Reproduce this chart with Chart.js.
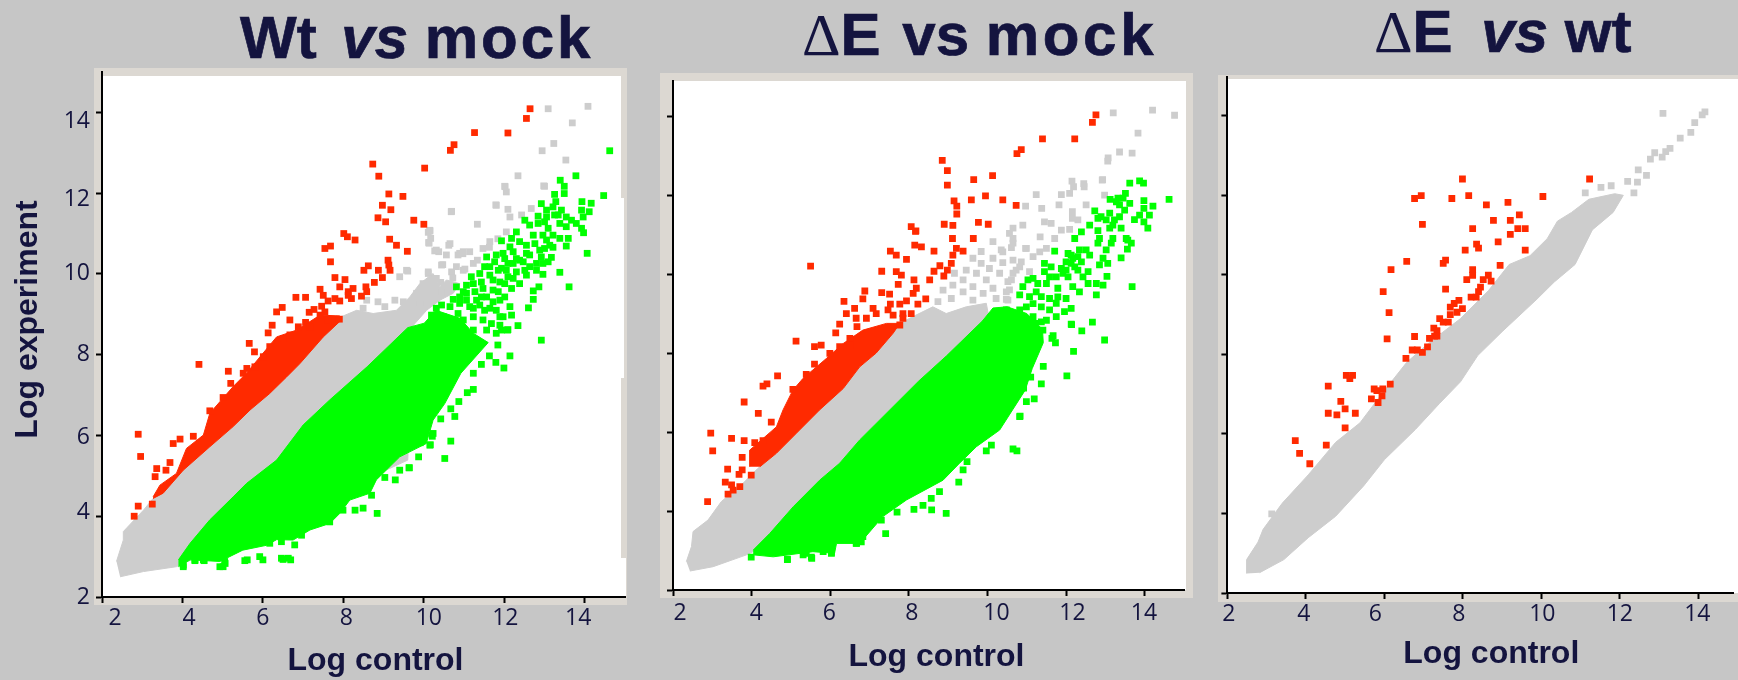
<!DOCTYPE html>
<html><head><meta charset="utf-8">
<script src="https://cdn.jsdelivr.net/npm/chart.js@4"></script>
<style>
html,body{margin:0;padding:0;width:1738px;height:680px;overflow:hidden;background:#c6c6c6}
.box{position:absolute}
canvas{position:absolute;top:0}
.t{position:absolute;white-space:pre;font:bold 60px/60px "Liberation Sans",Arial,sans-serif;color:#14143f;-webkit-text-stroke:0.7px #14143f}
.t i{font-style:italic}
.t b.d{font:normal 60px/60px "Liberation Serif",serif;-webkit-text-stroke:0}
</style></head><body>
<div class="box" style="left:94px;top:68px;width:533px;height:537px;background:#dcd8d2"></div>
<div class="box" style="left:101px;top:76px;width:520px;height:521px;background:#fff"></div>
<div class="box" style="left:621px;top:198px;width:3px;height:180px;background:#fff"></div>
<div class="box" style="left:621px;top:558px;width:5px;height:39px;background:#fff"></div>
<div class="box" style="left:660px;top:73px;width:533px;height:525px;background:#dcd8d2"></div>
<div class="box" style="left:673px;top:81px;width:513px;height:509px;background:#fff"></div>
<div class="box" style="left:1218px;top:75px;width:520px;height:527px;background:#dcd8d2"></div>
<div class="box" style="left:1227px;top:79px;width:511px;height:514px;background:#fff"></div>
<div class="t" style="left:240px;top:8px">Wt <i style="margin-left:8px">vs</i> <span style="letter-spacing:3px">mock</span></div>
<div class="t" style="left:802px;top:5px"><b class="d">Δ</b>E <span style="margin-left:5px">vs</span> <span style="letter-spacing:3.7px">mock</span></div>
<div class="t" style="left:1374px;top:2px"><b class="d">Δ</b>E <i style="margin-left:12px">vs</i> wt</div>
<canvas id="c1" style="left:0" width="640" height="680"></canvas>
<canvas id="c2" style="left:640px" width="550" height="680"></canvas>
<canvas id="c3" style="left:1190px" width="548" height="680"></canvas>
<script>
const tickValues = [2,4,6,8,10,12,14];
const xTitle = "Log control";
const yTitle = "Log experiment";

// Panel 1: Wt vs mock
const p1GrayShape = [[2.36,2.88],[2.53,3.41],[2.53,3.62],[3.03,4.15],[3.27,4.44],[3.52,4.6],[4.02,5.14],[4.68,5.72],[5.26,6.22],[5.68,6.63],[6.17,7.04],[6.59,7.45],[7.5,8.44],[7.95,8.94],[8.33,9.1],[8.74,9.02],[9.32,9.1],[9.65,9.43],[9.9,9.76],[10.23,10.01],[10.4,9.68],[10.56,9.85],[10.89,9.76],[10.73,9.52],[10.4,9.35],[10.07,9.1],[9.74,8.73],[9.6,5.39],[3.85,2.75],[3.03,2.63],[2.45,2.5]];
const p1GrayPts = [[12.34,12.43],[12.01,12.17],[12.05,12.03],[13,12.17],[11.8,11.7],[10.69,11.55],[12.09,11.6],[12.14,11.41],[11.33,11.23],[12.67,11.62],[12.43,11.46],[12.05,11.04],[10.15,11.08],[10.17,10.88],[10.65,10.75],[10.27,10.57],[10.56,10.47],[10.98,10.55],[10.85,10.47],[11.47,10.63],[11.64,10.8],[10.44,10.22],[10.69,10.05],[11.23,10.26],[10.98,10.09],[13.09,14.09],[14.08,14.15],[13.69,13.74],[13.23,13.23],[12.94,13.05],[13.53,12.82],[12.98,12.18],[12.02,12.16],[11.79,11.71],[10.68,11.54],[10.11,11.03],[10.13,10.76],[10.62,10.71],[10.37,10.55],[10.97,10.5],[10.47,10.23],[9.6,10.07],[10.11,10.01],[10.15,11.06],[10.12,10.78],[10.31,10.59],[10.89,10.51],[11.14,10.55],[10.11,10.05],[9.57,10.09],[9.4,9.93],[9.98,9.76],[10.31,9.89],[10.44,9.56],[8.58,9.35],[8.49,9.15],[8.86,9.31],[9.28,9.35],[9.03,9.19],[9.82,9.52],[9.9,9.27],[9.49,9.31],[10.81,10.18],[10.72,9.9],[11.02,10.12],[11.33,10.34],[11.63,10.66],[11.84,10.87],[10.42,9.79],[10.11,9.69]];
const p1RedShape = [[3.27,4.48],[3.44,4.77],[3.85,5.06],[4.1,5.68],[4.52,6.01],[4.68,6.55],[5.26,7.21],[5.59,7.54],[5.93,7.95],[6.34,8.44],[6.84,8.61],[7.42,8.98],[7.91,8.96],[7.95,8.86],[7.5,8.44],[6.92,7.78],[6.59,7.45],[6.17,7.04],[5.68,6.63],[5.26,6.22],[4.68,5.72],[4.02,5.14],[3.52,4.57],[3.27,4.44]];
const p1RedPts = [[12.64,14.09],[12.55,13.85],[12.09,13.49],[11.26,13.5],[10.75,13.2],[10.66,13.06],[10.02,12.62],[8.73,12.72],[8.88,12.42],[9.13,11.98],[9.48,11.92],[8.97,11.7],[9.18,11.59],[8.86,11.39],[9.05,11.29],[9.75,11.33],[10,11.23],[9.15,10.86],[9.32,10.71],[9.59,10.56],[8.01,11],[8.1,10.92],[8.29,10.84],[7.54,10.63],[7.68,10.69],[7.68,10.3],[9.11,10.34],[9.13,10.22],[9.16,10.09],[8.62,10.2],[8.51,10.09],[8.87,10.09],[8.97,9.91],[8.77,9.79],[7.79,9.91],[8.04,9.86],[7.91,9.68],[7.42,9.62],[7.5,9.47],[6.82,9.42],[7.06,9.42],[8.24,9.64],[8.12,9.56],[8.56,9.68],[8.58,9.56],[8.45,9.45],[8.2,9.39],[8.12,9.47],[7.79,9.39],[7.62,9.33],[7.91,9.33],[6.48,9.17],[6.34,9.06],[7.46,9.2],[7.27,9.12],[7.15,9.05],[7.54,9.06],[7.42,8.98],[6.67,8.86],[7.06,8.8],[7.9,8.88],[6.23,8.73],[6.88,8.69],[6.13,8.54],[5.66,8.28],[5.79,8.07],[5.6,7.66],[6.17,8.2],[6.51,8.4],[6.67,8.49],[7.17,8.69],[7.62,8.86],[6.01,7.95],[5.8,7.7],[4.41,7.76],[2.9,6.03],[2.96,5.48],[2.9,4.25],[2.8,4],[3.25,4.3],[3.36,5.18],[3.32,4.98],[3.59,5.14],[3.69,5.33],[3.77,5.8],[3.94,5.91],[4.27,5.98],[4.68,6.61],[5.01,6.94],[5.14,7.59],[5.2,7.29],[5.51,7.54]];
const p1GreenShape = [[3.9,2.92],[4.19,3.33],[4.68,3.91],[5.26,4.48],[5.59,4.81],[6.34,5.39],[7,6.26],[7.66,6.88],[8.59,7.7],[9.6,8.67],[10.01,8.78],[10.3,9.1],[10.9,8.9],[11.23,8.53],[11.6,8.3],[10.92,7.54],[10.52,6.79],[10.23,6.38],[10.06,5.8],[9.4,5.47],[8.82,4.9],[8.66,4.57],[8.16,4.4],[7.91,4.07],[7.66,3.82],[7.17,3.66],[6.75,3.41],[6.34,3.42],[6.09,3.28],[5.5,3.16],[4.93,2.88],[4.19,2.92],[3.9,2.75]];
const p1GreenPts = [[13.78,12.43],[13.39,12.32],[13.49,12.17],[13.25,11.97],[13.49,11.99],[14.47,11.94],[12.92,11.74],[13.28,11.79],[13.93,11.79],[14.16,11.75],[13.05,11.58],[13.42,11.58],[13.92,11.58],[14.11,11.54],[12.84,11.43],[13.25,11.46],[13.54,11.41],[13.96,11.41],[12.51,11.33],[13,11.29],[13.38,11.25],[13.79,11.25],[12.63,11.21],[12.84,11.25],[13.92,11.13],[13.09,11.13],[13.54,11.17],[12.3,11.04],[13.97,11.02],[13.21,10.96],[12.72,10.96],[11.93,10.82],[12.18,10.88],[13.59,10.88],[13.05,10.84],[12.38,10.8],[12.76,10.75],[12.55,10.71],[12.14,10.67],[13.54,10.69],[13,10.63],[13.21,10.66],[14.06,10.51],[11.97,10.51],[12.3,10.38],[11.56,10.42],[12.63,10.47],[13.17,10.41],[12.92,10.42],[12.8,10.26],[13.09,10.3],[12.47,10.3],[11.76,10.3],[12.09,10.26],[11.51,10.18],[12.8,10.09],[13.38,10.04],[12.96,9.99],[11.93,10.14],[12.3,10.05],[11.18,9.93],[12.55,9.97],[11.64,9.97],[12.09,9.93],[11.43,9.8],[11.89,9.8],[12.38,9.76],[10.81,9.68],[11.06,9.72],[13.61,9.68],[12.86,9.68],[12.72,9.58],[12.18,9.64],[11.72,9.6],[11.27,9.56],[10.98,9.56],[10.73,9.37],[12.72,9.37],[11.43,9.43],[12.01,9.43],[11.06,9.35],[11.72,9.31],[12.6,9.16],[10.44,9.23],[11.23,9.15],[12.14,9.19],[11.51,9.1],[10.85,9.02],[12.18,8.98],[11.89,8.94],[10.19,8.98],[12.34,8.72],[12.08,8.61],[11.89,8.73],[12.92,8.36],[14.62,13.05],[8.84,4.07],[8.49,4.2],[8.29,4.15],[8.7,4.52],[9.29,4.9],[9.63,5.2],[9.87,5.47],[10.52,5.43],[10.15,5.76],[9.4,5.14],[9.03,4.96],[6.46,3.37],[6.79,3.29],[6.5,2.93],[6.69,2.92],[5.92,3],[5.61,2.92],[4.93,2.75],[5.06,2.83],[4.02,2.79],[4.52,2.92],[4.31,2.92],[7.99,4.15],[7.66,3.86],[6.96,3.53],[6.17,3.33],[10.23,6.05],[10.67,5.86],[10.77,6.47],[10.67,6.66],[10.21,5.98],[9.91,5.82],[10.16,5.77],[9.64,5.2],[10.01,6.36],[10.42,6.41],[10.87,6.84],[11.23,7.14],[11.08,7.06],[11.43,7.76],[11.23,7.54],[11.63,7.97],[11.79,7.81],[11.99,7.67],[12.14,7.97],[11.84,8.24],[12.09,8.62],[11.39,10.01],[11.64,10.18],[11.85,10.09],[12.05,10.09],[12.22,10.26],[12.38,10.34],[11.72,9.85],[12.01,9.76],[12.22,9.89],[11.23,9.76],[11.47,9.64],[11.85,9.56],[11.06,9.52],[11.31,9.35],[11.56,9.43],[11.89,9.35],[10.89,9.43],[10.65,9.19],[10.89,9.27],[11.14,9.19],[11.39,9.23],[11.64,9.15],[11.8,9.1],[11.97,8.94],[10.98,8.86],[11.23,8.94],[11.47,8.86],[11.68,8.77],[11.93,8.61],[10.73,8.86],[10.48,8.94],[10.31,9.15],[10.23,8.77],[10.56,8.61],[10.89,8.61],[11.23,8.61],[11.56,8.61],[11.8,8.53],[12.96,10.96],[13.13,10.71],[13.38,10.88],[12.88,10.59],[12.55,10.51],[12.22,10.55],[12.01,10.38],[11.8,10.47],[12.51,10.09],[12.63,10.18],[12.96,10.26],[13.21,11.66],[13.34,11.46],[13.05,11.41],[13.67,11.33],[4.02,2.75],[4.31,2.9],[4.54,2.9],[5.01,2.75],[5.05,2.88],[5.55,2.9],[6,2.92],[6.46,2.96],[6.63,2.96]];

// Panel 2: dE vs mock
const p2GrayShape = [[2.34,2.72],[2.47,3.1],[2.51,3.48],[2.89,3.77],[3.23,4.24],[3.78,4.7],[4.16,5.08],[4.63,5.46],[5.14,5.97],[5.73,6.56],[6.33,7.1],[6.75,7.65],[7.17,8],[7.6,8.5],[7.77,8.75],[8.1,8.92],[8.61,9.17],[8.95,9],[9.46,9.17],[9.97,9.26],[10.05,8.83],[9.8,8.75],[9.3,5.5],[3.87,2.89],[3.02,2.59],[2.43,2.48]];
const p2GrayPts = [[13.06,12.86],[12.15,12.35],[12.45,12.29],[12.92,12.38],[12.19,12.21],[11.24,12.01],[11.88,12.01],[12.09,12.04],[12.98,12],[11.82,11.75],[12.51,11.75],[10.97,11.72],[11.38,11.66],[12.16,11.58],[12.16,11.41],[12.3,11.37],[11.45,11.32],[11.62,11.28],[10.9,11.24],[10.65,11.16],[10.56,11.03],[11.88,11.11],[12.09,11.13],[11.34,10.94],[10.65,10.9],[11.71,10.9],[10.97,10.65],[10.61,10.67],[11.5,10.65],[10.39,10.56],[11.33,10.56],[10.86,10.31],[10.39,10.29],[11.16,10.44],[11.07,10.06],[10.73,10.1],[10.61,9.85],[10.56,9.6],[10.48,9.36],[10.82,10.18],[13.2,14.08],[14.2,14.15],[14.76,14.02],[13.83,13.57],[13.36,13.09],[13.07,12.94],[13.68,13.06],[12.93,12.39],[12.46,12.21],[10.14,10.82],[10.65,10.78],[10.35,10.61],[10.99,10.65],[9.84,10.57],[9.63,10.4],[9.84,10.27],[10.14,10.4],[10.65,10.35],[9.46,10.1],[10.05,10.14],[9.16,10.02],[9.72,10.02],[10.31,10.02],[10.65,10.02],[9.38,9.85],[9.97,9.85],[10.52,9.81],[9.12,9.72],[9.63,9.68],[10.14,9.64],[10.48,9.55],[8.87,9.59],[9.38,9.55],[9.89,9.51],[10.52,9.34],[8.74,9.3],[9.08,9.38],[9.63,9.34],[10.22,9.38]];
const p2RedShape = [[3.95,5.12],[3.95,5.54],[4.63,6.13],[4.8,6.56],[5.05,7.06],[5.31,7.36],[5.9,7.86],[6.33,8.24],[6.83,8.58],[7.43,8.75],[7.77,8.75],[7.6,8.5],[7.17,8],[6.75,7.65],[6.33,7.1],[5.73,6.56],[5.14,5.97],[4.63,5.46],[4.21,5.12]];
const p2RedPts = [[12.76,14.03],[12.67,13.84],[12.22,13.42],[11.4,13.42],[10.86,13.15],[10.75,13.05],[8.85,12.88],[8.98,12.62],[8.98,12.25],[9.65,12.39],[10.13,12.49],[9.15,11.85],[9.22,11.72],[9.22,11.52],[9.59,11.88],[9.95,11.98],[10.39,11.88],[10.73,11.74],[8.9,11.26],[9.12,11.23],[9.77,11.31],[10.02,11.26],[8.06,11.2],[8.17,11.08],[9.11,10.9],[9.64,10.9],[8.18,11.09],[8.15,10.73],[8.32,10.69],[7.53,10.58],[7.68,10.48],[8.64,10.58],[7.94,10.37],[9.21,10.65],[9.38,10.58],[9.12,10.48],[9.08,10.27],[8.79,10.21],[7.31,10.07],[7.68,10.06],[7.81,9.97],[8.64,10.07],[8.98,10.1],[8.89,9.95],[8.53,9.85],[8.13,9.85],[7.73,9.74],[8.19,9.64],[8.11,9.51],[6.88,9.57],[6.83,9.37],[7.31,9.53],[7.51,9.49],[6.35,9.31],[8.43,9.37],[8.23,9.24],[7.94,9.32],[7.77,9.24],[7.53,9.24],[6.62,9.13],[7.09,9.13],[6.41,9],[6.66,8.88],[6.24,8.73],[7.17,9],[7.47,9.09],[7.85,9],[8.06,9],[6.92,8.88],[7.6,8.96],[6.68,8.67],[6.14,8.51],[6.5,8.37],[7.77,8.71],[7.85,8.88],[5.6,8.16],[5.77,8.2],[6.24,8.16],[5.6,7.72],[5.39,7.46],[5.99,7.99],[6.5,8.2],[5.5,10.2],[5.13,8.3],[4.66,7.42],[4.39,7.22],[4.29,7.16],[3.81,6.76],[5.05,7.08],[4.17,6.47],[4.5,6.25],[2.96,5.97],[3.49,5.84],[3.81,5.78],[4.29,5.78],[4.08,5.73],[3.01,5.52],[3.76,5.36],[3.39,5.06],[3.76,5.04],[3.99,4.91],[3.68,4.93],[3.33,4.73],[3.7,4.62],[3.49,4.66],[3.53,4.53],[3.4,4.43],[2.88,4.24]];
const p2GreenShape = [[4.04,3.01],[4.46,3.43],[5.06,4.11],[5.73,4.78],[6.24,5.21],[6.75,5.8],[8.24,7.28],[8.96,7.93],[9.87,8.81],[10.14,9.14],[10.5,9.17],[11,9],[11.4,8.6],[11.42,8.26],[11.14,7.61],[10.96,7.06],[10.31,6.05],[9.72,5.63],[9.29,5.21],[8.87,4.78],[7.94,4.28],[7.34,3.86],[6.75,3.18],[6.16,3.18],[6.11,2.93],[5.56,2.97],[4.55,2.84],[4.04,2.89]];
const p2GreenPts = [[13.62,12.3],[13.87,12.36],[13.97,12.3],[14.62,11.89],[13.12,11.89],[13.51,12.04],[13.32,11.92],[13.62,11.79],[13.98,11.86],[14.21,11.72],[13.36,11.75],[12.73,11.6],[13.49,11.62],[13.98,11.66],[13.11,11.54],[14.12,11.49],[12.81,11.41],[13.36,11.45],[13.74,11.38],[13.02,11.37],[13.98,11.32],[13.19,11.24],[13.4,11.16],[14.08,11.16],[12.6,11.24],[12.39,11.07],[12.81,11.1],[12.22,10.9],[12.85,10.9],[13.19,10.9],[13.57,10.86],[12.81,10.78],[13.66,10.78],[13.15,10.78],[11.71,10.58],[13.56,10.63],[13.02,10.61],[12.34,10.61],[12.05,10.52],[12.6,10.48],[13.4,10.41],[12.94,10.4],[12.17,10.4],[11.45,10.27],[12,10.31],[12.39,10.31],[12.85,10.23],[13.06,10.27],[11.62,10.18],[12.22,10.18],[11.88,10.14],[12.56,10.06],[11.45,10.06],[13.04,9.94],[11.75,9.93],[11.16,9.89],[12.43,9.93],[12.05,9.93],[10.9,9.68],[11.5,9.76],[12.56,9.76],[12.77,9.76],[12.94,9.72],[13.68,9.68],[12.17,9.68],[11.79,9.64],[11.24,9.55],[12.34,9.55],[12.77,9.47],[10.82,9.47],[12,9.38],[11.58,9.38],[11.16,9.25],[12.13,9.13],[10.48,9.09],[11.58,9.09],[11.96,9.05],[11.75,8.92],[11.37,8.79],[12.13,8.73],[12.67,8.78],[12.4,8.56],[11.67,8.44],[12.98,8.33],[10.82,8.92],[11.16,8.92],[11.41,8.58],[12.02,7.42],[12.19,8.04],[12.14,8.72],[11.73,8.26],[11.42,7.66],[11.37,7.22],[11.19,6.84],[10.92,7.11],[10.83,6.4],[11.1,7.39],[11.64,8.37],[8.95,3.94],[9.27,4.73],[9.38,5.04],[9.48,5.25],[9.97,5.52],[10.65,5.57],[10.75,5.52],[8.58,4.03],[8.36,4.14],[8.13,4.04],[7.7,3.97],[7.3,3.77],[7.41,3.43],[6.79,3.22],[6.66,3.18],[6.83,3.35],[6.24,3.35],[6.03,2.93],[4.91,2.77],[5.52,2.83],[5.31,2.89],[10.82,6.39],[10.99,6.77],[10.1,5.67],[8.78,4.49],[8.57,4.32],[11.03,9.85],[11.28,9.76],[11.58,9.93],[11.92,10.02],[12.13,10.27],[12.3,10.44],[12.51,10.61],[11.37,9.43],[11.79,9.42],[11.07,9.43],[10.99,9.17],[11.37,9.17],[11.75,9.26],[10.82,9.09],[10.65,8.92],[10.99,8.83],[11.2,8.75],[10.44,8.75],[10.73,8.67],[11.03,8.58],[11.28,8.54],[11.5,8.83],[12.13,10.48],[12.3,10.1],[12,10.1],[13.53,10.9],[13.28,11.83],[13.45,11.92],[13.23,11.37],[13.11,11.16],[12.89,11.45],[13.87,11.49],[3.99,2.83],[4.91,2.78],[5.53,2.8],[6.33,3.35],[6.67,3.18],[6.03,2.95],[5.82,2.97],[5.39,2.93]];

// Panel 3: dE vs wt
const p3GrayShape = [[2.49,2.49],[2.49,2.84],[2.78,3.28],[2.91,3.6],[3.4,4.26],[4.06,4.97],[4.76,5.79],[5.38,6.28],[6,7.09],[6.57,7.8],[7.15,8.3],[7.94,8.9],[8.65,9.6],[9.18,10.26],[9.71,10.48],[10.15,10.91],[10.41,11.35],[10.77,11.57],[11.21,11.9],[11.87,12.04],[12.09,12],[11.83,11.57],[11.3,11.13],[10.86,10.26],[10.33,9.82],[9.89,9.39],[9,8.57],[8.38,7.97],[7.94,7.31],[7.41,6.77],[6.79,6.11],[6,5.35],[5.47,4.69],[4.76,3.93],[4.06,3.39],[3.44,2.84],[2.82,2.51]];
const p3GrayPts = [[13.1,14.06],[14.17,14.1],[14.1,14.02],[13.81,13.58],[13.91,13.83],[13.54,13.44],[13.28,13.18],[13.17,13.1],[13.08,12.96],[12.89,13.07],[12.78,12.91],[12.47,12.64],[12.68,12.5],[12.45,12.33],[12.2,12.35],[11.78,12.24],[11.52,12.2],[11.12,12.06],[12.36,12.06],[11.03,11.57],[3.13,3.99]];
const p3RedPts = [[7.99,12.41],[11.23,12.41],[6.94,11.99],[6.77,11.92],[7.72,11.92],[8.15,11.99],[10.04,11.97],[8.6,11.76],[9.15,11.82],[9.44,11.51],[8.78,11.37],[9.21,11.37],[6.97,11.27],[8.25,11.16],[9.4,11.16],[9.59,11.16],[9.21,11.02],[8.9,10.83],[8.35,10.77],[8.4,10.67],[8.06,10.62],[9.59,10.62],[7.56,10.37],[7.5,10.29],[6.57,10.34],[6.17,10.13],[8.95,10.24],[8.25,10.13],[8.25,9.99],[8.1,9.88],[8.65,9.99],[8.52,9.88],[8.72,9.84],[5.97,9.58],[7.56,9.64],[8.45,9.69],[8.4,9.58],[8.21,9.44],[8.34,9.44],[7.9,9.36],[7.78,9.28],[7.68,9.19],[7.99,9.15],[7.85,9.06],[6.12,9.05],[7.68,9],[7.41,8.9],[7.63,8.81],[7.5,8.81],[7.26,8.66],[7.34,8.6],[6.77,8.45],[7.28,8.46],[7.15,8.4],[7.34,8.46],[6.07,8.39],[7.1,8.19],[6.71,8.11],[6.84,8.11],[6.97,8.05],[6.55,7.9],[5.03,7.47],[5.19,7.47],[5.12,7.39],[4.57,7.2],[6.15,7.25],[5.74,7.13],[5.81,7.09],[5.96,7.13],[5.94,6.96],[5.67,6.88],[5.84,6.79],[4.89,6.82],[5,6.63],[4.57,6.52],[4.79,6.48],[5.26,6.52],[5,6.15],[3.73,5.83],[4.52,5.72],[3.84,5.51],[4.1,5.25]];

const GRAY="#cdcdcd", RED="#ff2a00", GREEN="#00ff00", NAVY="#14143f";
const xy = a => a.map(p => ({x:p[0], y:p[1]}));
const shape = (a,c,o) => ({data:xy(a), order:o, showLine:true, fill:'shape', backgroundColor:c, borderColor:c, borderWidth:1, pointRadius:0});
const pts = (a,c,o) => ({data:xy(a), order:o, showLine:false, backgroundColor:c, borderColor:c, borderWidth:0, pointStyle:'rect', pointRadius:4.8});

const shifter = {
  id:'shifter',
  beforeDraw(chart, args, o){
    const apply = (scale, offs, axis) => {
      if (scale._shifted) return; scale._shifted = true;
      if (offs) scale.getLabelItems(chart.chartArea).forEach((it,i) => { it.options.translation[axis] += offs[i] || 0; });
    };
    const wrap = (scale, dx, dy) => {
      if (!dx && !dy) return;
      const orig = scale.drawTitle;
      if (scale._wrapped) return; scale._wrapped = true;
      scale.drawTitle = function(){ const c=this.ctx; c.save(); c.translate(dx,dy); orig.call(this); c.restore(); };
    };
    apply(chart.scales.x, o.xOffs, 0);
    if (o.yOffs) apply(chart.scales.y, o.yOffs, 1);
    wrap(chart.scales.x, o.xTitleDx||0, 0);
    if (o.yTitleDy) wrap(chart.scales.y, 0, o.yTitleDy);
  }
};

function panel(id, datasets, g){
  const tickFont = {family:'"Open Sans"', size:23};
  const titleFont = {family:'"Liberation Sans"',weight:'bold',size:32};
  new Chart(document.getElementById(id), {
    type:'scatter',
    data:{datasets},
    plugins:[shifter],
    options:{
      responsive:false, animation:false, events:[],
      layout:{padding:{left:0, top:g.top, right:g.right, bottom:0}},
      plugins:{legend:{display:false}, tooltip:{enabled:false}, title:{display:false},
        shifter:{xOffs:g.xOffs, yOffs:g.yOffs, xTitleDx:g.xTitleDx, yTitleDy:g.yTitleDy}},
      scales:{
        x:{type:'linear', min:2, max:g.xMax,
          afterBuildTicks:s=>{s.ticks=tickValues.map(v=>({value:v}));},
          afterFit:s=>{s.height=g.xAxisH;},
          border:{color:'#000',width:2},
          grid:{drawOnChartArea:false, drawTicks:true, tickLength:6, tickColor:'#000', tickWidth:2},
          ticks:{color:NAVY, font:tickFont, padding:g.xPad, maxRotation:0, autoSkip:false, includeBounds:false},
          title:{display:true, text:xTitle, color:NAVY, font:titleFont, padding:{top:0,bottom:g.xTitlePad}}
        },
        y:{type:'linear', min:2, max:g.yMax,
          afterBuildTicks:s=>{s.ticks=tickValues.map(v=>({value:v}));},
          afterFit:s=>{s.width=g.yAxisW;},
          border:{color:'#000',width:2},
          grid:{drawOnChartArea:false, drawTicks:true, tickLength:6, tickColor:'#000', tickWidth:2},
          ticks:{display:g.yLabels, color:NAVY, font:tickFont, padding:6, autoSkip:false, includeBounds:false},
          title:{display:g.yLabels, text:yTitle, color:NAVY, font:titleFont, padding:{top:9,bottom:0}}
        }
      }
    }
  });
}

// lower "order" is drawn on top
panel('c1',[shape(p1GrayShape,GRAY,6),pts(p1GrayPts,GRAY,5),shape(p1RedShape,RED,4),pts(p1RedPts,RED,3),shape(p1GreenShape,GREEN,2),pts(p1GreenPts,GREEN,1)],
  {top:72,right:15,xMax:15,yMax:15,xAxisH:83,yAxisW:102,yLabels:true,xPad:2,xTitlePad:0,
   xOffs:[13,6.5,0,3,5,1,-6.5],yOffs:[0,-4,2,0,0,6,9],xTitleDx:12,yTitleDy:-15});
panel('c2',[shape(p2GrayShape,GRAY,6),pts(p2GrayPts,GRAY,5),shape(p2RedShape,RED,4),pts(p2RedPts,RED,3),shape(p2GreenShape,GREEN,2),pts(p2GreenPts,GREEN,1)],
  {top:80.5,right:6,xMax:15,yMax:14.9,xAxisH:90,yAxisW:33,yLabels:false,xPad:4,xTitlePad:4,
   xOffs:[7,4.6,-1,3,9,6.4,-0.7],xTitleDx:8});
panel('c3',[shape(p3GrayShape,GRAY,3),pts(p3GrayPts,GRAY,2),pts(p3RedPts,RED,1)],
  {top:77.2,right:0,xMax:14.89,yMax:14.97,xAxisH:87,yAxisW:37.4,yLabels:false,xPad:2,xTitlePad:7,
   xOffs:[1.5,-2,-9,-4,1,0,-1],xTitleDx:11});
</script>
</body></html>
